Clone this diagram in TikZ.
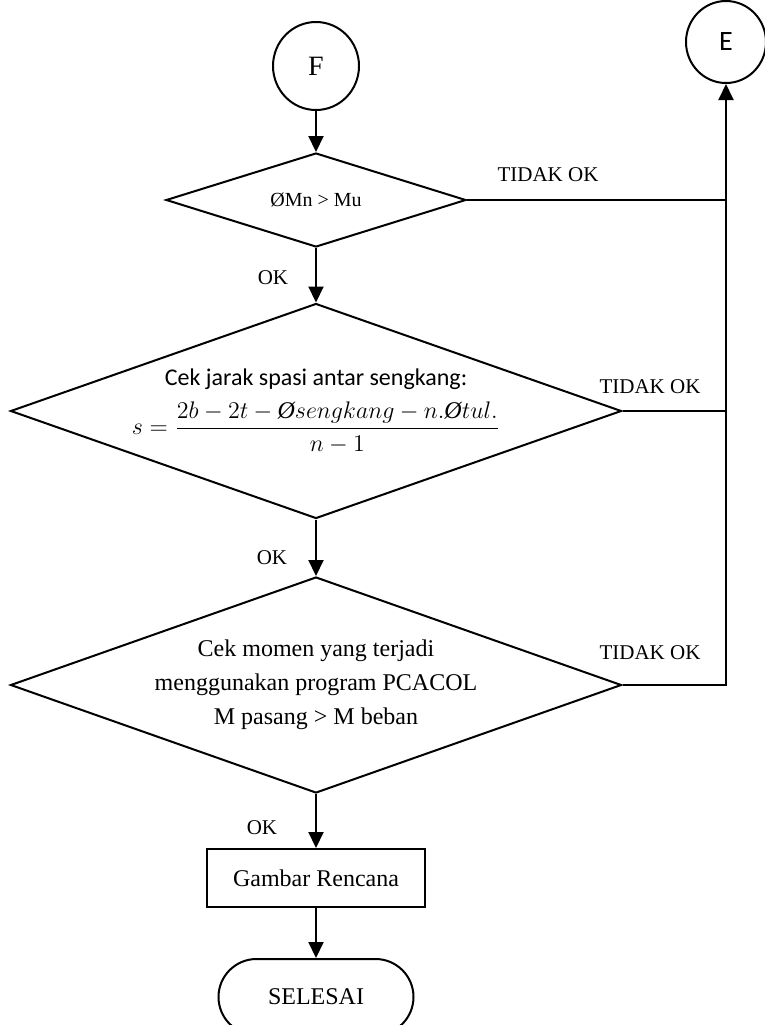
\documentclass[tikz,border=0pt]{standalone}
\usepackage{fontspec}
\setmainfont{Liberation Serif}
\newfontfamily\calfont{Carlito}
\usetikzlibrary{shapes.geometric,arrows.meta}

\begin{document}
\begin{tikzpicture}[x=0.5pt, y=-0.5pt, line width=1pt,
  every node/.style={font=\fontsize{12}{14}\selectfont, inner sep=0pt},
  conn/.style={draw, ellipse, minimum width=43pt, minimum height=44pt, font=\fontsize{14}{16}\selectfont},
  decide/.style={draw, diamond, aspect=2.84, align=center},
  proc/.style={draw, rectangle, minimum width=109pt, minimum height=29pt},
  term/.style={draw, rectangle, rounded corners=19pt, minimum width=97.5pt, minimum height=38pt},
  lbl/.style={font=\fontsize{10.5}{12}\selectfont},
  edge/.style={-{Triangle[length=8pt,width=7.5pt]}},
  link/.style={-}]
  \useasboundingbox (0,0) rectangle (765,1025);
  \node[conn] (F) at (316,66) {F};
  \node[conn, minimum width=40pt, minimum height=41pt] (E) at (726,42) {\calfont E};
  \node[decide, minimum width=150pt, minimum height=47pt, font=\fontsize{10}{12}\selectfont] (d1) at (316,200) {ØMn > Mu};
  \node[decide, minimum width=305.5pt, minimum height=107.5pt, inner sep=-14pt] (d2) at (316,411)
    {{\calfont Cek jarak spasi antar sengkang:}\\[5pt]
     $s=\displaystyle\frac{2b-2t-\textit{Ø}sengkang-n.\textit{Ø}tul.}{n-1}$};
  \node[decide, minimum width=305.5pt, minimum height=108pt, font=\fontsize{12}{17}\selectfont] (d3) at (316,685)
    {Cek momen yang terjadi\\ menggunakan program PCACOL\\ M pasang > M beban};
  \node[proc] (plan) at (316,878) {Gambar Rencana};
  \node[term] (stop) at (316,997) {SELESAI};
  % labels on the branches
  \node[lbl] (ok1) at (273,278) {OK};
  \node[lbl] (ok2) at (272,558) {OK};
  \node[lbl] (ok3) at (262,828) {OK};
  \node[lbl] (no1) at (548,175) {TIDAK OK};
  \node[lbl] (no2) at (650,387) {TIDAK OK};
  \node[lbl] (no3) at (650,653) {TIDAK OK};
  % main flow
  \draw[edge] (F) -- (d1);
  \draw[edge] (d1) -- (d2);
  \draw[edge] (d2) -- (d3);
  \draw[edge] (d3) -- (plan);
  \draw[edge] (plan) -- (stop);
  % back to E
  \draw[link] (d1.east) -- (d1.east -| E.south);
  \draw[link] (d2.east) -- (d2.east -| E.south);
  \draw[edge] (d3.east) -- (d3.east -| E.south) -- (E.south);
\end{tikzpicture}
\end{document}
